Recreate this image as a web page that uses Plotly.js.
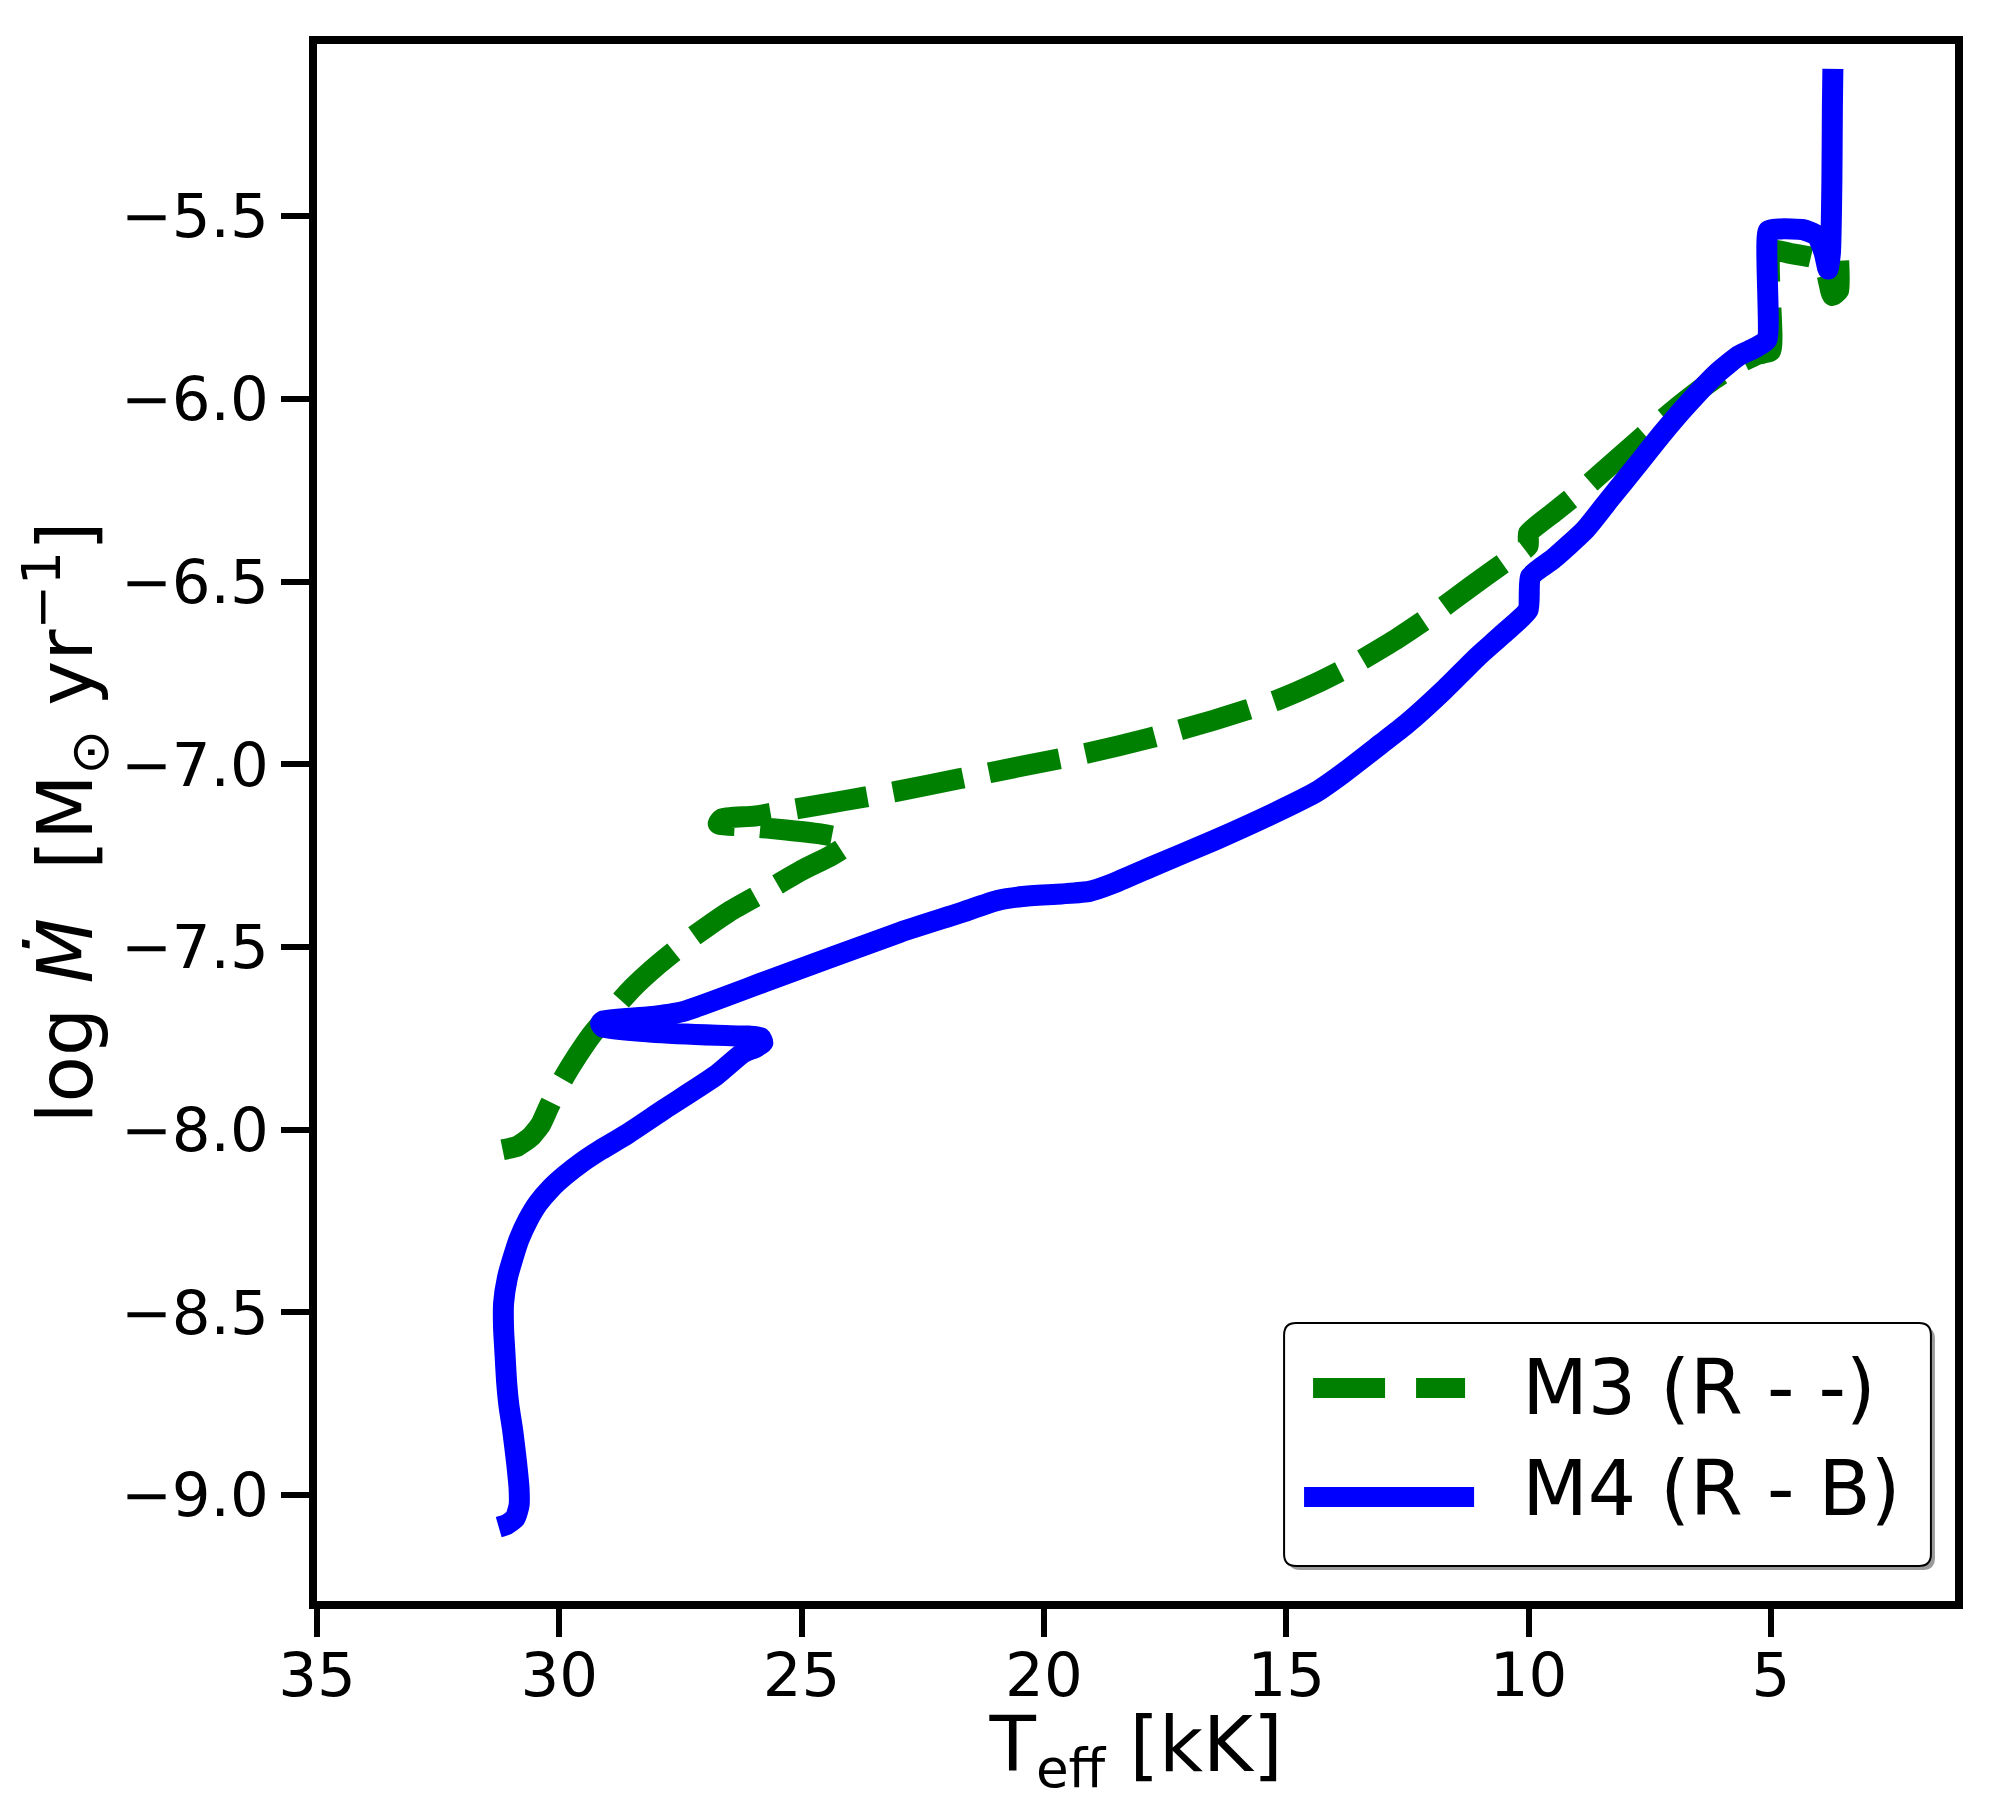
<!DOCTYPE html>
<html>
<head>
<meta charset="utf-8">
<script src="https://cdn.plot.ly/plotly-3.0.1.min.js"></script>
<style>html,body{margin:0;padding:0;background:#fff;}</style>
</head>
<body>
<div id="chart" style="width:2000px;height:1800px;"></div>
<script>
// M3 (R - -) : Teff [kK] and log Mdot [Msun/yr]
const m3Teff = [31.17,30.86,30.59,30.38,30.2,29.93,29.62,29.33,28.93,28.48,27.96,27.3,26.5,25.71,24.92,24.39,24.08,24.13,24.66,25.32,26.11,26.72,26.64,25.98,25.18,24.13,23.07,21.75,20.44,19.12,17.80,16.48,15.16,14.37,13.58,12.78,11.99,11.2,10.54,10.01,10.0,9.49,8.83,8.17,7.51,6.85,6.19,5.66,5.26,5.0,5.0,4.6,4.08,3.87,3.73,3.60,3.60];
const m3LogMdot = [-8.055,-8.045,-8.02,-7.985,-7.933,-7.863,-7.796,-7.74,-7.677,-7.611,-7.548,-7.478,-7.404,-7.345,-7.285,-7.25,-7.222,-7.205,-7.19,-7.18,-7.17,-7.163,-7.149,-7.142,-7.124,-7.1,-7.075,-7.04,-7.005,-6.97,-6.928,-6.879,-6.823,-6.778,-6.725,-6.662,-6.592,-6.515,-6.452,-6.403,-6.368,-6.312,-6.242,-6.165,-6.088,-6.015,-5.948,-5.903,-5.878,-5.868,-5.595,-5.602,-5.616,-5.647,-5.717,-5.703,-5.622];

// M4 (R - B)
const m4Teff = [31.25,31.09,30.91,30.83,30.83,30.88,30.96,31.04,31.09,31.12,31.15,31.15,31.07,30.96,30.83,30.65,30.44,30.17,29.88,29.54,29.14,28.61,27.82,26.77,26.21,25.95,25.80,25.85,26.08,26.75,28.14,29.09,29.15,29.09,28.14,27.45,25.71,22.97,21.75,20.96,20.44,19.64,19.06,18.59,17.80,16.48,15.16,14.37,13.84,13.05,12.52,11.73,11.07,10.54,10.01,9.96,9.49,8.83,8.30,7.77,7.24,6.72,6.11,5.66,5.32,5.08,5.05,4.8,4.34,4.05,3.9,3.82,3.77,3.74,3.73,3.72];
const m4LogMdot = [-9.088,-9.081,-9.063,-9.028,-8.983,-8.913,-8.825,-8.755,-8.685,-8.615,-8.545,-8.475,-8.405,-8.353,-8.30,-8.248,-8.202,-8.16,-8.125,-8.09,-8.055,-8.013,-7.943,-7.852,-7.79,-7.775,-7.762,-7.748,-7.744,-7.742,-7.733,-7.72,-7.71,-7.702,-7.691,-7.677,-7.593,-7.46,-7.408,-7.373,-7.362,-7.355,-7.348,-7.327,-7.282,-7.208,-7.128,-7.075,-7.026,-6.945,-6.89,-6.795,-6.708,-6.645,-6.578,-6.487,-6.438,-6.358,-6.27,-6.183,-6.095,-6.015,-5.93,-5.882,-5.86,-5.838,-5.54,-5.535,-5.537,-5.553,-5.6,-5.645,-5.6,-5.4,-5.2,-5.097];

const seriesNames = ['M3 (R - -)', 'M4 (R - B)'];
const seriesColors = ['#008000', '#0000ff'];
const xTicks = [35,30,25,20,15,10,5];
const yTicks = [-9.0,-8.5,-8.0,-7.5,-7.0,-6.5,-6.0,-5.5];

const font = 'DejaVu Sans, sans-serif';
const nb = '\u00a0';
const greenDash = '72px,26px';

// rounded legend frame (paper coordinates)
function roundedRect(x0, y0, x1, y1, rx, ry) {
  return `M${x0+rx},${y0} L${x1-rx},${y0} Q${x1},${y0} ${x1},${y0+ry} L${x1},${y1-ry} Q${x1},${y1} ${x1-rx},${y1} ` +
         `L${x0+rx},${y1} Q${x0},${y1} ${x0},${y1-ry} L${x0},${y0+ry} Q${x0},${y0} ${x0+rx},${y0} Z`;
}
const W = 1638, H = 1557;
const bx0 = 0.5904, bx1 = 0.9853, by0 = 0.0225, by1 = 0.1785;
const rx = 12 / W, ry = 12 / H;
const sx = 4 / W, sy = 4 / H;

const traces = [
  {x: m3Teff, y: m3LogMdot, name: seriesNames[0], mode: 'lines', type: 'scatter', showlegend: false,
   line: {color: seriesColors[0], width: 21, dash: greenDash, shape: 'spline', smoothing: 0.5}},
  {x: m4Teff, y: m4LogMdot, name: seriesNames[1], mode: 'lines', type: 'scatter', showlegend: false,
   line: {color: seriesColors[1], width: 21, shape: 'spline', smoothing: 0.5}},
  // legend entries (text only; their sample strokes are drawn as legend shapes below)
  {x: [null], y: [null], name: nb + nb + seriesNames[0] + nb, mode: 'lines', type: 'scatter', showlegend: true,
   line: {color: 'rgba(0,0,0,0)', width: 1}},
  {x: [null], y: [null], name: nb + nb + seriesNames[1] + nb, mode: 'lines', type: 'scatter', showlegend: true,
   line: {color: 'rgba(0,0,0,0)', width: 1}}
];

const layout = {
  width: 2000, height: 1800,
  margin: {l: 317, r: 45, t: 44, b: 199},
  paper_bgcolor: '#fff', plot_bgcolor: '#fff',
  font: {family: font, color: '#000'},
  showlegend: true,
  legend: {
    x: 0.9847, y: 0.0379, xanchor: 'right', yanchor: 'bottom',
    bgcolor: 'rgba(0,0,0,0)', borderwidth: 0,
    font: {family: font, size: 76, color: '#000'},
    itemwidth: 170, tracegroupgap: 0
  },
  shapes: [
    {type: 'path', xref: 'paper', yref: 'paper', layer: 'above',
     path: roundedRect(bx0 + sx, by0 - sy, bx1 + sx, by1 - sy, rx, ry),
     fillcolor: '#9a9a9a', line: {width: 0}},
    {type: 'path', xref: 'paper', yref: 'paper', layer: 'above',
     path: roundedRect(bx0, by0, bx1, by1, rx, ry),
     fillcolor: '#ffffff', line: {color: '#000', width: 2}},
    {type: 'line', xref: 'paper', yref: 'paper', layer: 'above',
     x0: 0.6081, x1: 0.7009, y0: 0.1368, y1: 0.1368,
     line: {color: seriesColors[0], width: 20, dash: '72px,31px'}},
    {type: 'line', xref: 'paper', yref: 'paper', layer: 'above',
     x0: 0.6026, x1: 0.7064, y0: 0.0668, y1: 0.0668,
     line: {color: seriesColors[1], width: 20}}
  ],
  xaxis: {
    range: [35, 1.2], tickvals: xTicks, ticktext: xTicks.map(String),
    showline: true, linecolor: '#000', linewidth: 8, mirror: true,
    ticks: 'outside', ticklen: 28, tickwidth: 6, tickcolor: '#000',
    ticklabelstandoff: -14,
    tickfont: {family: font, size: 61, color: '#000'},
    showgrid: false, zeroline: false,
    title: {text: 'T<sub>eff</sub> [kK]', font: {family: font, size: 76, color: '#000'}, standoff: 6}
  },
  yaxis: {
    range: [-9.29, -5.029], tickvals: yTicks, tickformat: '.1f',
    showline: true, linecolor: '#000', linewidth: 8, mirror: true,
    ticks: 'outside', ticklen: 28, tickwidth: 6, tickcolor: '#000',
    tickfont: {family: font, size: 61, color: '#000'},
    showgrid: false, zeroline: false,
    title: {text: 'log <i>Ṁ</i>  [M<sub>⊙</sub> yr<sup>−1</sup>]', font: {family: font, size: 76, color: '#000'}, standoff: 0}
  }
};

Plotly.newPlot('chart', traces, layout, {staticPlot: true, displayModeBar: false});
</script>
</body>
</html>
